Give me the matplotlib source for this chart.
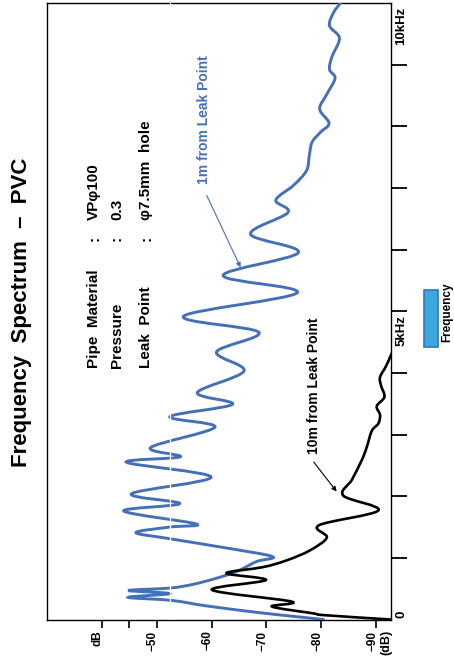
import numpy as np
import matplotlib
matplotlib.use('Agg')
import matplotlib.pyplot as plt
from matplotlib.path import Path
from matplotlib.patches import PathPatch, Rectangle
from matplotlib.transforms import ScaledTranslation

plt.rcParams['font.family'] = ['Liberation Sans', 'DejaVu Sans']
plt.rcParams['font.weight'] = 'bold'

# 1 m from leak point (kHz, dB)
blue_khz = [0.00, 0.04, 0.11, 0.22, 0.31, 0.36, 0.42, 0.47, 0.51, 0.57, 0.67, 0.78,
            0.94, 1.02, 1.16, 1.31, 1.41, 1.50, 1.55, 1.76, 1.88, 2.04, 2.31, 2.55,
            2.64, 2.79, 3.12, 3.29, 3.49, 3.68, 4.03, 4.34, 4.66, 4.92, 5.30, 5.58,
            5.95, 6.25, 6.60, 6.80, 7.04, 7.28, 7.52, 7.74, 7.90, 8.05, 8.28, 8.52,
            8.78, 8.92, 9.12, 9.43, 9.63, 9.84, 10.0]
blue_db = [-80.4, -76.1, -68.8, -59.1, -52.7, -44.8, -52.4, -44.8, -52.4, -56.6, -60.9, -64.6,
           -68.2, -71.1, -62.7, -52.4, -46.2, -52.4, -57.2, -44.0, -54.2, -45.4, -59.9, -44.5,
           -54.3, -48.9, -60.6, -52.4, -63.8, -57.4, -65.9, -60.9, -68.6, -54.9, -75.6, -62.1,
           -75.8, -67.1, -73.9, -71.7, -74.9, -77.3, -77.8, -78.3, -79.8, -81.4, -79.7, -81.0,
           -82.5, -81.5, -81.9, -83.3, -81.5, -82.2, -83.5]

# 10 m from leak point
black_khz = [0.00, 0.07, 0.10, 0.21, 0.29, 0.48, 0.64, 0.75, 0.85, 0.96, 1.12, 1.33,
             1.53, 1.77, 2.01, 2.27, 2.59, 2.80, 3.06, 3.18, 3.32, 3.46, 3.61, 3.79,
             3.93, 4.11, 4.29, 4.45]
black_db = [-92.6, -80.6, -78.5, -71.0, -74.6, -60.1, -69.9, -62.7, -69.4, -73.7, -77.9, -81.0,
            -79.6, -90.4, -84.0, -85.6, -87.4, -88.3, -89.2, -90.4, -90.7, -90.1, -91.5, -90.9,
            -90.7, -91.8, -92.7, -93.5]

db_ticks = [-40, -45, -50, -60, -70, -80, -90]
db_labels = ['dB', '', '\u221250', '\u221260', '\u221270', '\u221280', '\u221290']
khz_ticks = [1, 2, 3, 4, 5, 6, 7, 8, 9]
khz_labels = {0: '0', 5: '5kHz', 10: '10kHz'}

info_rows = [('Pipe  Material', 'VP\u03c6100'),
             ('Pressure', '0.3'),
             ('Leak  Point', '\u03c67.5mm  hole')]

BLUE = '#4470b8'


def smooth_path(xs, ys):
    # catmull-rom through the points, as cubic bezier segments
    pts = np.column_stack([xs, ys])
    n = len(pts)
    verts = [pts[0]]
    codes = [Path.MOVETO]
    for i in range(n - 1):
        p0 = pts[max(i - 1, 0)]
        p1 = pts[i]
        p2 = pts[i + 1]
        p3 = pts[min(i + 2, n - 1)]
        verts += [p1 + (p2 - p0) / 6, p2 - (p3 - p1) / 6, p2]
        codes += [Path.CURVE4] * 3
    return Path(verts, codes)


fig = plt.figure(figsize=(4.54, 6.66), dpi=100)
ax = fig.add_axes([47 / 454, 1 - 619.5 / 666, 344 / 454, 616.5 / 666])
ax.set_xlim(-30, -92.7)
ax.set_ylim(0, 10)

ax.add_patch(PathPatch(smooth_path(blue_db, blue_khz), fill=False,
                       edgecolor=BLUE, lw=2.1, capstyle='round', zorder=3))
ax.add_patch(PathPatch(smooth_path(black_db, black_khz), fill=False,
                       edgecolor='black', lw=1.9, capstyle='round', zorder=3))

# seam
ax.axvline(-52.4, color='white', lw=0.9, zorder=6)

for s in ax.spines.values():
    s.set_linewidth(1.0)

ax.set_xticks(db_ticks)
ax.set_xticklabels(db_labels, rotation=90, fontsize=8.5, fontweight='bold', va='top')
ax.tick_params(axis='x', direction='out', length=6, width=1.2, pad=2)
shift = ScaledTranslation(-4 / 100, 0, fig.dpi_scale_trans)
for lab in ax.get_xticklabels():
    lab.set_transform(lab.get_transform() + shift)
ax.yaxis.tick_right()
ax.set_yticks(khz_ticks)
ax.set_yticklabels([])
ax.tick_params(axis='y', direction='out', length=11.5, width=1.3)

for k, lab in khz_labels.items():
    ax.text(1.03, k + (0.03 if k == 0 else -0.06), lab, transform=ax.get_yaxis_transform(),
            rotation=90, ha='center', va='bottom' if k == 0 else 'top',
            fontsize=9.5, fontweight='bold')

fig.text(386 / 454, 1 - 630 / 666, '(dB)', rotation=90, ha='center', va='top',
         fontsize=9, fontweight='bold')

fig.text(22 / 454, 1 - 312 / 666, 'Frequency  Spectrum  \u2013  PVC', rotation=90,
         ha='center', va='center', fontsize=16, fontweight='bold')

# pipe info
info_x = [94, 117, 146]
for (lab, val), x in zip(info_rows, info_x):
    fig.text(x / 454, 1 - 368 / 666, lab, rotation=90, ha='center', va='bottom',
             fontsize=11, fontweight='bold')
    fig.text(x / 454, 1 - 238 / 666, ':', rotation=90, ha='center', va='center',
             fontsize=11, fontweight='bold')
    fig.text(x / 454, 1 - 220 / 666, val, rotation=90, ha='center', va='bottom',
             fontsize=11, fontweight='bold')

ax.annotate('', xy=(-65.5, 5.67), xytext=(-58.9, 6.92),
            arrowprops=dict(arrowstyle='-|>', color=BLUE, lw=0.8, mutation_scale=7))
ax.text(-58.6, 7.07, '1m from Leak Point', rotation=90, ha='center', va='bottom',
        color=BLUE, fontsize=10, fontweight='bold')

ax.annotate('', xy=(-83.1, 2.04), xytext=(-78.3, 2.59),
            arrowprops=dict(arrowstyle='-|>', color='black', lw=0.8, mutation_scale=7))
ax.text(-78.7, 2.69, '10m from Leak Point', rotation=90, ha='center', va='bottom',
        color='black', fontsize=10, fontweight='bold')

# legend swatch
fig.add_artist(Rectangle((424 / 454, 1 - 347 / 666), 14 / 454, 57 / 666,
                         facecolor='#3fa7e0', edgecolor='#2a7cb8', lw=1.2,
                         transform=fig.transFigure))
fig.text(447 / 454, 1 - 312 / 666, 'Frequency', rotation=90, ha='center', va='center',
         fontsize=8.5, fontweight='bold')

fig.savefig('out.png', dpi=100)
